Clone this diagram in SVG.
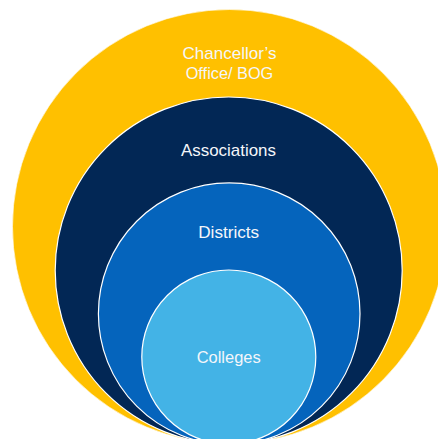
<svg xmlns="http://www.w3.org/2000/svg" width="438" height="439" viewBox="0 0 438 439">
<style>
.ring{stroke:#ffffff;stroke-width:1.2}
.lbl{font-family:"Liberation Sans","Noto Sans",sans-serif;font-size:17px;fill:#f4f6fa;text-anchor:middle}
</style>
<rect width="438" height="439" fill="#ffffff"/>
<g id="chancellors-office">
<circle cx="229.5" cy="226.5" r="217" fill="#ffc000" stroke="#ffffff" stroke-width="0.6"/>
<text class="lbl" x="229.5" y="59.3" textLength="94" lengthAdjust="spacingAndGlyphs">Chancellor’s</text>
<text class="lbl" x="229.5" y="79.3" textLength="87.6" lengthAdjust="spacingAndGlyphs">Office/ BOG</text>
</g>
<g id="associations">
<circle class="ring" cx="228.7" cy="270.5" r="173.5" fill="#022755"/>
<text class="lbl" x="228.5" y="155.5" textLength="95" lengthAdjust="spacingAndGlyphs">Associations</text>
</g>
<g id="districts">
<circle class="ring" cx="229.2" cy="313.7" r="130.8" fill="#0564bc"/>
<text class="lbl" x="228.7" y="237.7" textLength="61" lengthAdjust="spacingAndGlyphs">Districts</text>
</g>
<g id="colleges">
<circle class="ring" cx="228.8" cy="357" r="87" fill="#43b3e6"/>
<text class="lbl" x="228.7" y="363.3" textLength="64" lengthAdjust="spacingAndGlyphs">Colleges</text>
</g>
<g id="connectors"/>
</svg>
